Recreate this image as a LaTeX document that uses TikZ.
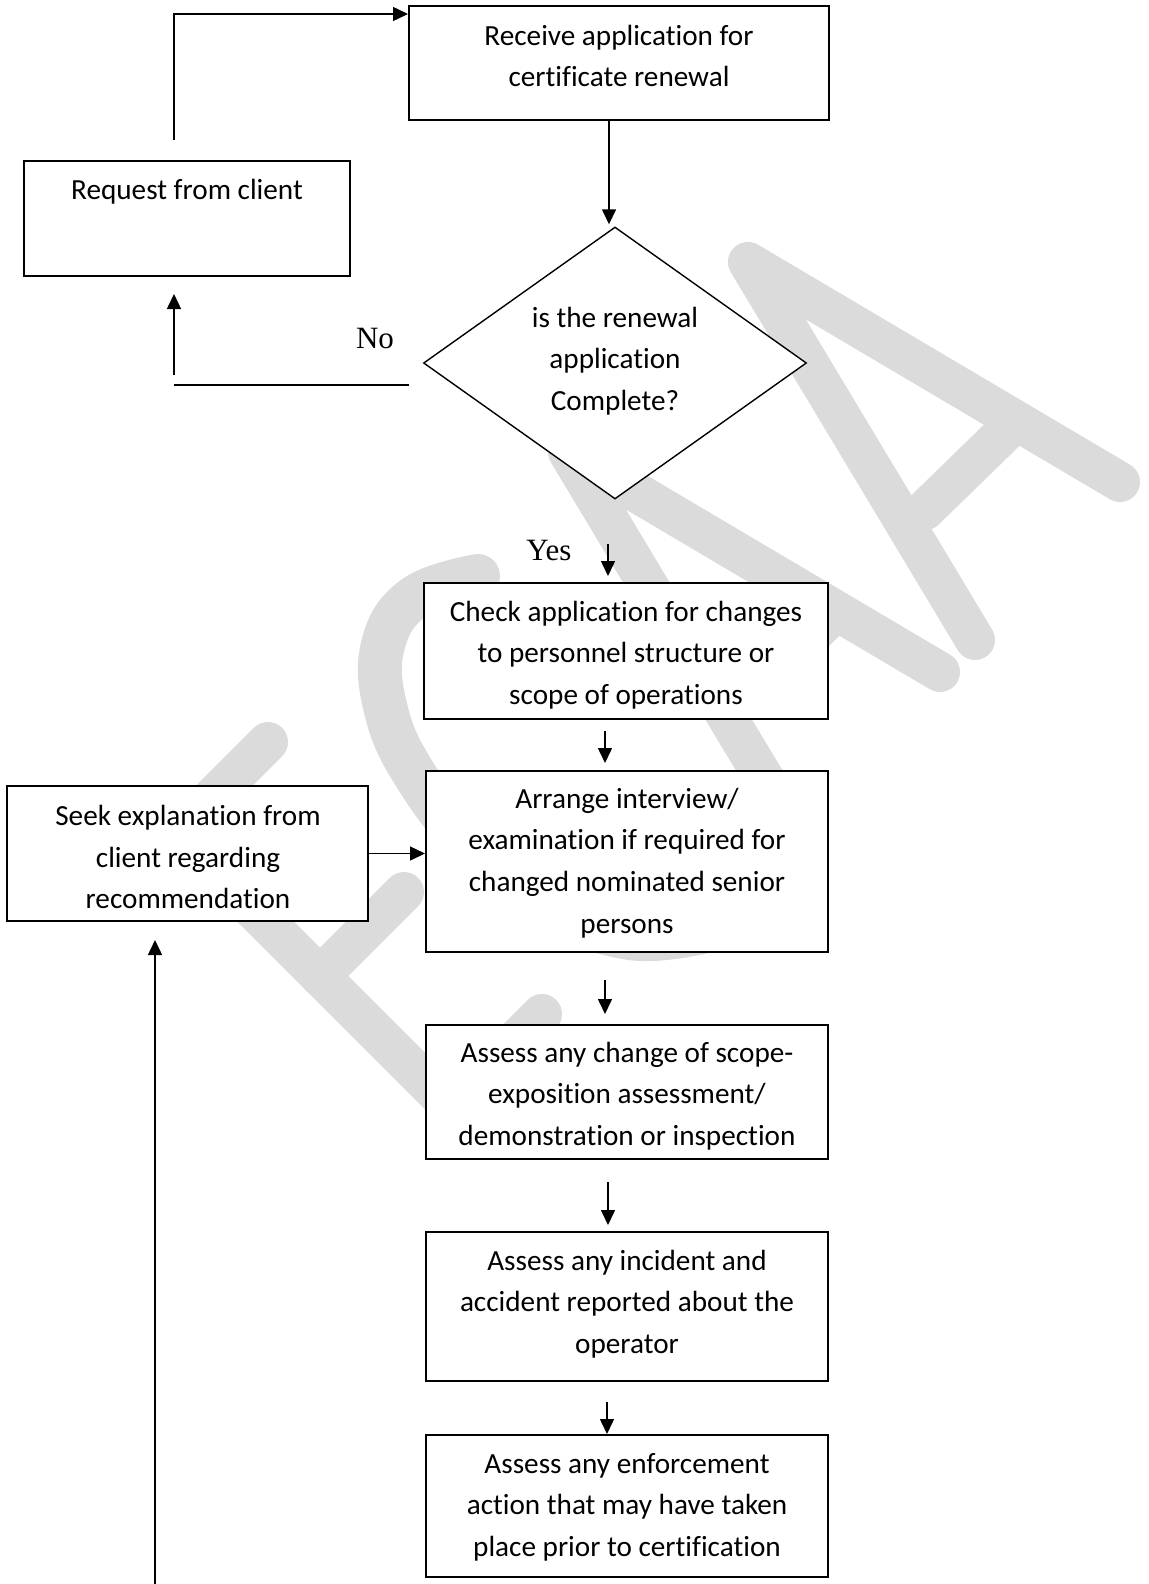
\documentclass[tikz,border=0pt]{standalone}
\usepackage{fontspec}
\setmainfont{Carlito}[Ligatures={NoCommon}]
\newfontfamily\tnr{Liberation Serif}
\usetikzlibrary{arrows.meta,shapes.geometric,calc}
\begin{document}
\begin{tikzpicture}[x=0.5pt,y=-0.5pt,
  wm/.style={draw=black!14, line width=20pt, line cap=round, line join=round},
  box/.style={draw, line width=1pt, fill=white, inner sep=0pt, rectangle},
  dbox/.style={draw, line width=0.7pt, fill=white, inner sep=0pt, diamond},
  txt/.style={align=center, inner sep=0pt, font=\fontsize{14.6}{20.8}\selectfont},
  lbl/.style={inner sep=0pt, font=\tnr\fontsize{15.5}{18}\selectfont},
  arr/.style={draw, line width=0.75pt, -{Triangle[length=7.5pt,width=7pt]}},
  ln/.style={draw, line width=0.75pt}]
\useasboundingbox (0,0) rectangle (1149,1584);
\fill[white] (0,0) rectangle (1149,1584);

% watermark "ECAA"
\draw[wm] (268,742) -- (177,833) -- (450,1106) -- (542,1014);
\draw[wm] (320,976) -- (404,892);
\draw[wm, line width=22pt] plot[smooth, tension=0.7] coordinates
  {(478,576) (415,597) (383,645) (386,710) (415,775) (470,845) (545,905) (630,938) (710,930)};
\draw[wm] (795,830) -- (568,452) -- (940,672);
\draw[wm] (745,700) -- (825,622);
\draw[wm] (975,640) -- (748,262) -- (1120,482);
\draw[wm] (925,510) -- (1005,432);

% boxes
\node[box, minimum width=210pt, minimum height=56.75pt] (recv) at (619,63.25) {};
\node[box, minimum width=163.25pt, minimum height=57.5pt] (req) at (186.75,218.5) {};
\node[dbox, minimum width=191.5pt, minimum height=136pt] (dia) at (615,363) {};
\node[box, minimum width=202pt, minimum height=68pt] (chk) at (626,651) {};
\node[box, minimum width=201pt, minimum height=90.5pt] (arg) at (627,861.5) {};
\node[box, minimum width=180.5pt, minimum height=67.5pt] (seek) at (187.5,853.5) {};
\node[box, minimum width=201pt, minimum height=67pt] (scope) at (627,1092) {};
\node[box, minimum width=201pt, minimum height=74.5pt] (inc) at (627,1306.5) {};
\node[box, minimum width=201pt, minimum height=71pt] (enf) at (627,1506) {};

% texts
\node[txt] (recvt) at (619,56) {Receive application for\\certificate renewal};
\node[txt] (reqt) at (187,192) {Request from client};
\node[txt] (diat) at (615,361) {is the renewal\\application\\Complete?};
\node[txt] (chkt) at (626,655) {Check application for changes\\to personnel structure or\\scope of operations};
\node[txt] (argt) at (627,863) {Arrange interview/\\examination if required for\\changed nominated senior\\persons};
\node[txt] (seekt) at (188,857) {Seek explanation from\\client regarding\\recommendation};
\node[txt] (scopet) at (627,1096) {Assess any change of scope-\\exposition assessment/\\demonstration or inspection};
\node[txt] (inct) at (627,1304) {Assess any incident and\\accident reported about the\\operator};
\node[txt] (enft) at (627,1507) {Assess any enforcement\\action that may have taken\\place prior to certification};

\node[lbl] (yes) at (549,550) {Yes};
\node[lbl] (no) at (375,338) {No};

% connectors
\coordinate (rq0) at (174,140);
\draw[arr] (rq0) |- ([yshift=-4.25pt]recv.north west);
\draw[arr] ([xshift=-5pt]recv.south) -- ([xshift=-3pt,yshift=1pt]dia.north);
\coordinate (no1) at (174,385);
\draw[ln] ([xshift=-7pt,yshift=-11pt]dia.west) -- (no1);
\coordinate (no2) at (174,375);
\draw[arr] (no2) -- ([xshift=-6.375pt,yshift=-8.5pt]req.south);
\draw[arr] ([xshift=-3.5pt,yshift=-22pt]dia.south) -- ([xshift=-9pt,yshift=3pt]chk.north);
\draw[arr] ([xshift=-10.5pt,yshift=-5.5pt]chk.south) -- ([xshift=-11pt,yshift=3.5pt]arg.north);
\draw[arr] (seek.east) -- (seek.east -| arg.west);
\coordinate (bot) at (155,1584);
\draw[arr] (bot) -- ([xshift=-16.25pt,yshift=-9pt]seek.south);
\draw[arr] ([xshift=-11pt,yshift=-13.5pt]arg.south) -- ([xshift=-11pt,yshift=5pt]scope.north);
\draw[arr] ([xshift=-9.5pt,yshift=-11pt]scope.south) -- ([xshift=-9.5pt,yshift=3pt]inc.north);
\draw[arr] ([xshift=-10pt,yshift=-10pt]inc.south) -- ([xshift=-10pt]enf.north);
\end{tikzpicture}
\end{document}
